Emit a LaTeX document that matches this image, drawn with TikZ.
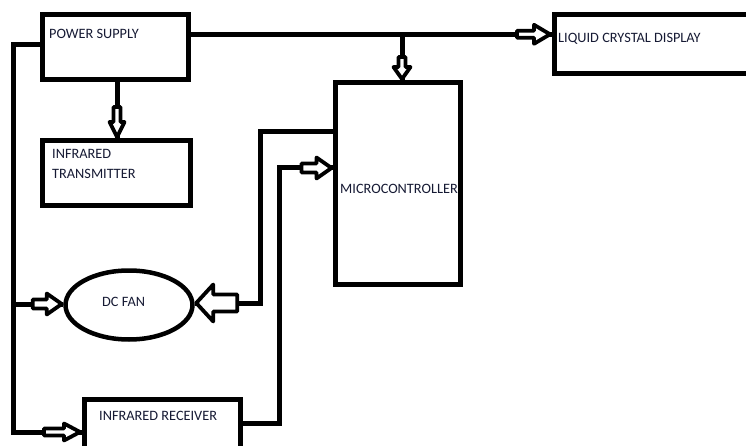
\documentclass[tikz,border=0pt]{standalone}
\usepackage{fontspec}
\setmainfont{Carlito}
\usetikzlibrary{calc,shapes.geometric}
\definecolor{txt}{RGB}{22,26,52}
\newcommand\barrow[6]{% #1 tip, #2 rotation, #3 total, #4 head, #5 shaft half, #6 head half
  \begin{scope}[shift={#1},rotate=#2,xshift=-1.5pt]
    \filldraw[arw] (0,0) -- (-#4,#6) -- (-#4,#5) -- (-#3,#5) -- (-#3,-#5) -- (-#4,-#5) -- (-#4,-#6) -- cycle;
  \end{scope}}
\begin{document}
\begin{tikzpicture}[x=1pt,y=1pt,
  box/.style={draw, line width=5pt, rectangle, inner sep=0pt},
  wire/.style={line width=5pt},
  arw/.style={draw=black, fill=white, line width=3.8pt, line join=round},
  lbl/.style={anchor=base west, inner sep=0pt, text=txt, font=\fontsize{14.3}{17}\selectfont}]
\useasboundingbox (0,0) rectangle (746,-446);
\clip (0,0) rectangle (746,-446);
\fill[white] (0,0) rectangle (746,-446);
% boxes
\node[box, minimum width=146pt, minimum height=65pt] (ps) at (115,-47.5) {};
\node[box, minimum width=148pt, minimum height=65pt] (tr) at (116,-173.5) {};
\node[box, minimum width=250pt, minimum height=59pt] (lcd) at (679,-44.5) {};
\node[box, minimum width=124.5pt, minimum height=201pt] (mc) at (397.75,-183.5) {};
\node[box, minimum width=156pt, minimum height=71pt] (ir) at (162,-434.5) {};
\node[draw, ellipse, line width=4.5pt, minimum width=127pt, minimum height=69pt, inner sep=0pt] (fan) at (129,-305) {};
% texts
\node[lbl] (tps) at (49,-39) {POWER SUPPLY};
\node[lbl] (ttr1) at (52,-159) {INFRARED};
\node[lbl] (ttr2) at (52,-178.5) {TRANSMITTER};
\node[lbl] (tlcd) at (558,-43) {LIQUID CRYSTAL DISPLAY};
\node[lbl] (tmc) at (340,-194) {MICROCONTROLLER};
\node[lbl] (tfan) at (102,-306) {DC FAN};
\node[lbl] (tir) at (99,-420) {INFRARED RECEIVER};
% coordinates
\coordinate (b1) at (13,-45);
\coordinate (b2) at (13,-432);
\coordinate (bf) at (13,-304);
\coordinate (t1) at (0,-34.3);
\coordinate (t2) at (402,-34.3);
\coordinate (d1) at (117,0);
\coordinate (m1) at (260,-132);
\coordinate (m2) at (260,-303);
\coordinate (r1) at (279,-423);
\coordinate (r2) at (279,-168);
% wires
\draw[wire] (ps.west |- b1) -- (b1) -- (b2) -- (ir.west |- b2);
\draw[wire] (bf) -- (fan.west |- bf);
\draw[wire] (ps.east |- t1) -- (lcd.west |- t1);
\draw[wire] (t2) -- (mc.north -| t2);
\draw[wire] (ps.south -| d1) -- (tr.north -| d1);
\draw[wire] (mc.west |- m1) -- (m1) -- (m2) -- (fan.east |- m2);
\draw[wire] (ir.east |- r1) -- (r1) -- (r2) -- (mc.west |- r2);
% block arrows
\barrow{(tr.north -| d1)}{-90}{30}{15}{3.5}{7.5}
\barrow{(lcd.west |- t1)}{0}{33}{16}{3.5}{9.5}
\barrow{(mc.north -| t2)}{-90}{22}{12}{3.5}{8.5}
\barrow{(mc.west |- r2)}{0}{30}{15}{4.5}{10.5}
\barrow{(fan.east |- m2)}{180}{41}{17}{8.5}{18.5}
\barrow{(fan.west |- bf)}{0}{29}{15}{4.5}{10.5}
\barrow{(ir.west |- b2)}{0}{36}{16}{3.5}{8.5}
\end{tikzpicture}
\end{document}
